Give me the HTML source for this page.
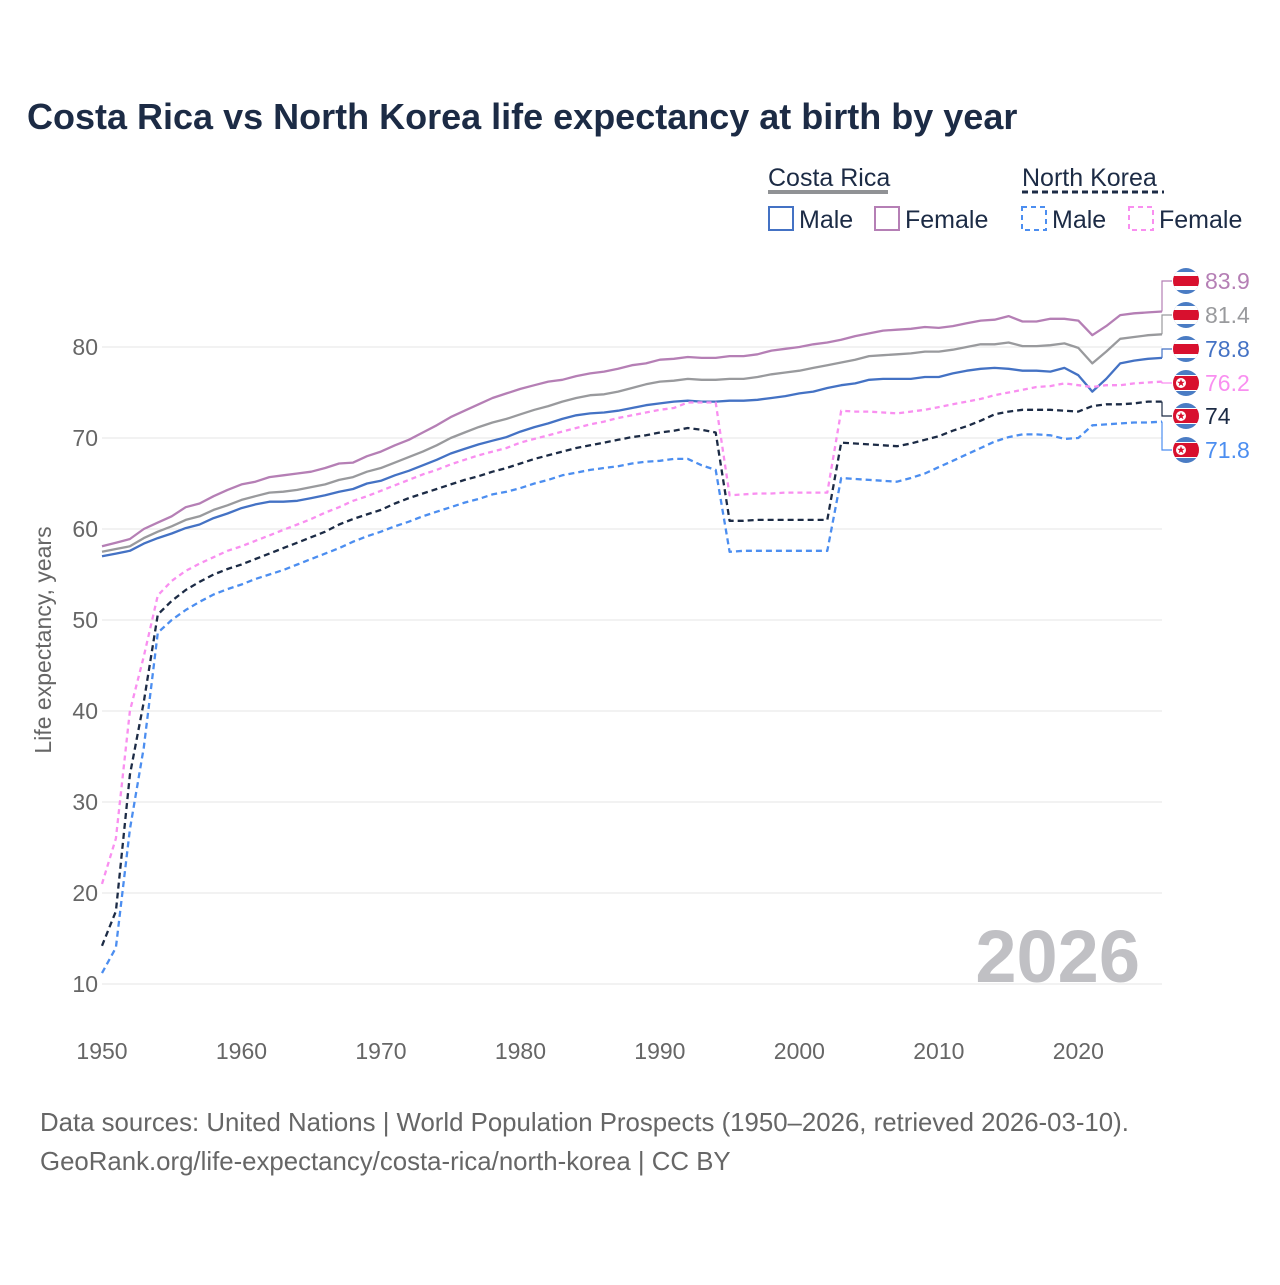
<!DOCTYPE html>
<html><head><meta charset="utf-8"><style>
body{margin:0;background:#fff;width:1280px;height:1280px;overflow:hidden;font-family:"Liberation Sans",sans-serif}
</style></head><body>
<svg id="chart" width="1280" height="1280" xmlns="http://www.w3.org/2000/svg" font-family="Liberation Sans, sans-serif">
<defs><clipPath id="fc"><circle cx="0" cy="0" r="13"/></clipPath></defs>
<text x="27" y="129" font-size="36" font-weight="bold" fill="#1c2b45">Costa Rica vs North Korea life expectancy at birth by year</text>
<g font-size="25" fill="#1c2b45">
<text x="768" y="186">Costa Rica</text>
<line x1="768" y1="192" x2="888" y2="192" stroke="#909295" stroke-width="4"/>
<text x="1022" y="186">North Korea</text>
<line x1="1022" y1="192" x2="1164" y2="192" stroke="#1c2b45" stroke-width="3" stroke-dasharray="6,4"/>
<rect x="769" y="207" width="24" height="23" fill="none" stroke="#4472c4" stroke-width="2"/>
<text x="799" y="228">Male</text>
<rect x="875" y="207" width="24" height="23" fill="none" stroke="#b57fb5" stroke-width="2"/>
<text x="905" y="228">Female</text>
<rect x="1022" y="207" width="24" height="23" fill="none" stroke="#4c8ef0" stroke-width="2" stroke-dasharray="5,4"/>
<text x="1052" y="228">Male</text>
<rect x="1129" y="207" width="24" height="23" fill="none" stroke="#f98ff0" stroke-width="2" stroke-dasharray="5,4"/>
<text x="1159" y="228">Female</text>
</g>
<g id="grid"></g>
<g id="yticks"></g>
<g id="xticks"></g>
<text x="1140" y="982" text-anchor="end" font-size="74" font-weight="bold" fill="#c0c0c4">2026</text>
<g id="lines"></g>
<g id="labels"></g>
<text transform="translate(51,640) rotate(-90)" text-anchor="middle" font-size="23" fill="#666">Life expectancy, years</text>
<text x="40" y="1131" font-size="25.8" fill="#666">Data sources: United Nations | World Population Prospects (1950–2026, retrieved 2026-03-10).</text>
<text x="40" y="1170" font-size="25.8" fill="#666">GeoRank.org/life-expectancy/costa-rica/north-korea | CC BY</text>
</svg>
<script>
const startYear = 1950;
const xTicks = [1950,1960,1970,1980,1990,2000,2010,2020];
const yTicks = [10,20,30,40,50,60,70,80];
const crMale = [57.0,57.3,57.6,58.4,59.0,59.5,60.1,60.5,61.2,61.7,
62.3,62.7,63.0,63.0,63.1,63.4,63.7,64.1,64.4,65.0,
65.3,65.9,66.4,67.0,67.6,68.3,68.8,69.3,69.7,70.1,
70.7,71.2,71.6,72.1,72.5,72.7,72.8,73.0,73.3,73.6,
73.8,74.0,74.1,74.0,74.0,74.1,74.1,74.2,74.4,74.6,
74.9,75.1,75.5,75.8,76.0,76.4,76.5,76.5,76.5,76.7,
76.7,77.1,77.4,77.6,77.7,77.6,77.4,77.4,77.3,77.7,
76.9,75.1,76.5,78.2,78.5,78.7,78.8];
const crTotal = [57.5,57.8,58.1,59.0,59.7,60.3,61.0,61.4,62.1,62.6,
63.2,63.6,64.0,64.1,64.3,64.6,64.9,65.4,65.7,66.3,
66.7,67.3,67.9,68.5,69.2,70.0,70.6,71.2,71.7,72.1,
72.6,73.1,73.5,74.0,74.4,74.7,74.8,75.1,75.5,75.9,
76.2,76.3,76.5,76.4,76.4,76.5,76.5,76.7,77.0,77.2,
77.4,77.7,78.0,78.3,78.6,79.0,79.1,79.2,79.3,79.5,
79.5,79.7,80.0,80.3,80.3,80.5,80.1,80.1,80.2,80.4,
79.9,78.2,79.5,80.9,81.1,81.3,81.4];
const crFemale = [58.1,58.5,58.9,60.0,60.7,61.4,62.4,62.8,63.6,64.3,
64.9,65.2,65.7,65.9,66.1,66.3,66.7,67.2,67.3,68.0,
68.5,69.2,69.8,70.6,71.4,72.3,73.0,73.7,74.4,74.9,
75.4,75.8,76.2,76.4,76.8,77.1,77.3,77.6,78.0,78.2,
78.6,78.7,78.9,78.8,78.8,79.0,79.0,79.2,79.6,79.8,
80.0,80.3,80.5,80.8,81.2,81.5,81.8,81.9,82.0,82.2,
82.1,82.3,82.6,82.9,83.0,83.4,82.8,82.8,83.1,83.1,
82.9,81.3,82.3,83.5,83.7,83.8,83.9];
const nkTotal = [14.2,18.0,33.0,41.0,50.6,52.1,53.3,54.2,55.0,55.6,
56.1,56.7,57.3,57.9,58.5,59.1,59.7,60.5,61.1,61.6,
62.1,62.8,63.4,63.9,64.4,64.9,65.4,65.8,66.3,66.7,
67.2,67.7,68.1,68.5,68.9,69.2,69.5,69.8,70.1,70.3,
70.6,70.8,71.1,70.9,70.6,60.9,60.9,61.0,61.0,61.0,
61.0,61.0,61.0,69.5,69.4,69.3,69.2,69.1,69.4,69.8,
70.2,70.8,71.3,71.9,72.6,72.9,73.1,73.1,73.1,73.0,
72.9,73.5,73.7,73.7,73.8,74.0,74.0];
const nkFemale = [21.0,26.0,40.0,46.0,52.7,54.3,55.4,56.2,56.9,57.6,
58.1,58.7,59.3,59.9,60.5,61.1,61.8,62.4,63.1,63.6,
64.2,64.8,65.4,66.0,66.5,67.1,67.6,68.1,68.5,68.9,
69.5,69.9,70.3,70.7,71.1,71.5,71.8,72.2,72.5,72.8,
73.1,73.3,73.9,73.9,73.9,63.7,63.8,63.9,63.9,64.0,
64.0,64.0,64.0,73.0,72.9,72.9,72.8,72.7,72.9,73.1,
73.4,73.7,74.0,74.3,74.7,75.0,75.3,75.6,75.7,76.0,
75.8,75.6,75.8,75.8,76.0,76.1,76.2];
const nkMale = [11.2,14.0,27.0,36.0,48.6,50.0,51.1,52.0,52.8,53.4,
53.9,54.5,55.0,55.5,56.1,56.7,57.3,57.9,58.6,59.2,
59.7,60.3,60.8,61.4,61.9,62.4,62.9,63.3,63.8,64.1,
64.5,65.0,65.4,65.9,66.2,66.5,66.7,66.9,67.2,67.4,
67.5,67.7,67.7,67.0,66.5,57.5,57.6,57.6,57.6,57.6,
57.6,57.6,57.6,65.6,65.5,65.4,65.3,65.2,65.6,66.1,
66.8,67.5,68.2,68.9,69.6,70.1,70.4,70.4,70.3,69.9,
70.0,71.4,71.5,71.6,71.7,71.7,71.8];

const NS='http://www.w3.org/2000/svg';
const x = yr => 102 + (yr-1950)*(1060/76);
const y = v => 984 - (v-10)*9.1;
function mk(tag, attrs, parent){const e=document.createElementNS(NS,tag);for(const k in attrs)e.setAttribute(k,attrs[k]);parent.appendChild(e);return e;}
const grid=document.getElementById('grid'), yt=document.getElementById('yticks'), xt=document.getElementById('xticks');
yTicks.forEach(v=>{
  const l=mk('line',{x1:102,x2:1162,y1:y(v),y2:y(v),stroke:'#e6e6e6','stroke-width':1},grid);
  
  
  const t=mk('text',{x:98,y:y(v)+8,'text-anchor':'end','font-size':23,fill:'#666'},yt);
  t.textContent=v;
  
  
});
xTicks.forEach(v=>{
  const t=mk('text',{x:x(v),y:1059,'text-anchor':'middle','font-size':23,fill:'#666'},xt);
  t.textContent=v;
  
  
});
const series=[
 {d:crFemale,c:'#b57fb5',dash:'',name:'costa-rica-female',ly:281,flag:'cr'},
 {d:crTotal,c:'#999a9d',dash:'',name:'costa-rica-total',ly:315,flag:'cr'},
 {d:crMale,c:'#4472c4',dash:'',name:'costa-rica-male',ly:349,flag:'cr'},
 {d:nkFemale,c:'#f98ff0',dash:'5,4',name:'north-korea-female',ly:383,flag:'nk'},
 {d:nkTotal,c:'#1c2b45',dash:'6,4',name:'north-korea-total',ly:416,flag:'nk'},
 {d:nkMale,c:'#4c8ef0',dash:'6,4',name:'north-korea-male',ly:450,flag:'nk'}
];
const lines=document.getElementById('lines'), labels=document.getElementById('labels');
series.forEach(s=>{
  const pts=s.d.map((v,i)=>x(startYear+i).toFixed(1)+','+y(v).toFixed(1)).join(' ');
  const p=mk('polyline',{points:pts,fill:'none',stroke:s.c,'stroke-width':2.3,'stroke-dasharray':s.dash,'stroke-linejoin':'round'},lines);
  
  
  const last=s.d[s.d.length-1], ex=x(startYear+s.d.length-1), ey=y(last);
  const c=mk('polyline',{points:`${ex},${ey} 1162,${ey} 1162,${s.ly} 1172,${s.ly}`,fill:'none',stroke:s.c,'stroke-width':1.2},labels);
  
  
  const g=mk('g',{transform:`translate(1186,${s.ly})`},labels);
  
  
  const gc=mk('g',{'clip-path':'url(#fc)'},g);
  if(s.flag==='cr'){
    mk('rect',{x:-14,y:-14,width:28,height:28,fill:'#4a7cc4'},gc);
    mk('rect',{x:-14,y:-9,width:28,height:18,fill:'#fff'},gc);
    mk('rect',{x:-14,y:-5,width:28,height:10,fill:'#d8102e'},gc);
  } else {
    mk('rect',{x:-14,y:-14,width:28,height:28,fill:'#4a7cc4'},gc);
    mk('rect',{x:-14,y:-8,width:28,height:16,fill:'#fff'},gc);
    mk('rect',{x:-14,y:-7,width:28,height:14,fill:'#d8102e'},gc);
    mk('circle',{cx:-5,cy:0,r:5,fill:'#fff'},gc);
    mk('polygon',{points:'-5,-4 -4,-1.3 -1.2,-1.3 -3.4,0.5 -2.6,3.3 -5,1.6 -7.4,3.3 -6.6,0.5 -8.8,-1.3 -6,-1.3',fill:'#d8102e'},gc);
  }
  const t=mk('text',{x:1205,y:s.ly+8,'font-size':23,fill:s.c},labels);
  t.textContent=String(last);
  
  
});
</script>
</body></html>
